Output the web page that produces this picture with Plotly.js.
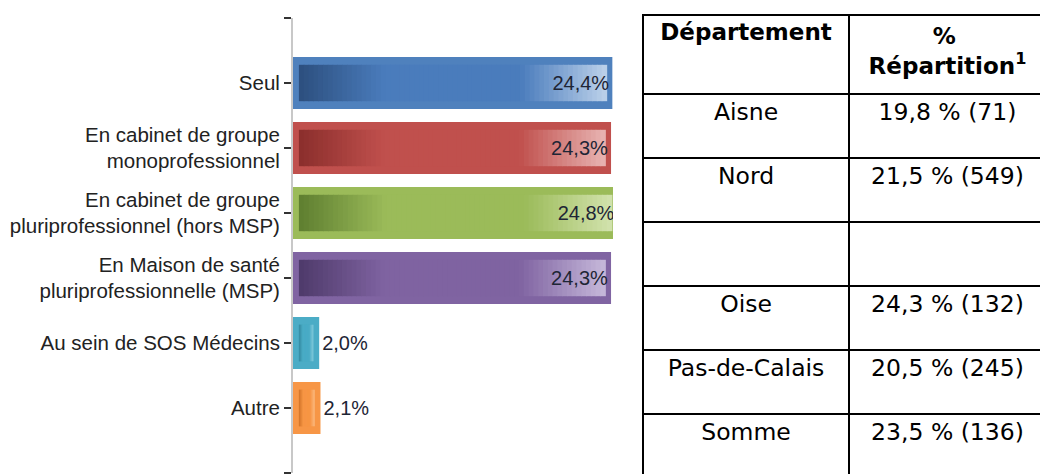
<!DOCTYPE html>
<html>
<head>
<meta charset="utf-8">
<script src="https://cdn.plot.ly/plotly-3.0.1.min.js"></script>
<style>
html,body{margin:0;padding:0;background:#fff;overflow:hidden;width:1040px;height:474px;}
#chart{width:1046px;height:478px;}
</style>
</head>
<body>
<div id="chart"></div>
<script>
// ---- data ----
const categories = [
  "Seul",
  "En cabinet de groupe<br>monoprofessionnel",
  "En cabinet de groupe<br>pluriprofessionnel (hors MSP)",
  "En Maison de santé<br>pluriprofessionnelle (MSP)",
  "Au sein de SOS Médecins",
  "Autre"
];
const values = [24.4, 24.3, 24.8, 24.3, 2.0, 2.1];

const departements = ["Aisne", "Nord", "", "Oise", "Pas-de-Calais", "Somme"];
const repartition = ["19,8 % (71)", "21,5 % (549)", "", "24,3 % (132)", "20,5 % (245)", "23,5 % (136)"];
const headerCol1 = "Département";
const headerCol2 = ["%", "Répartition<sup>1</sup>"];

// ---- styles ----
const palette = [
  {rim:"#4f81bd", dark:"#2c4f7e", mid:"#4a7cbc", light:"#bcd1ea"},
  {rim:"#c0504d", dark:"#8a2e2c", mid:"#c0504d", light:"#e8b4b2"},
  {rim:"#9bbb59", dark:"#5e7e30", mid:"#9bbb59", light:"#d2e2ad"},
  {rim:"#8064a2", dark:"#4e3a6a", mid:"#7f63a1", light:"#c6b8da"},
  {rim:"#4bacc6", dark:"#2c7d93", mid:"#4bacc6", light:"#93d3e3"},
  {rim:"#f79646", dark:"#c0661e", mid:"#f79646", light:"#fcc593"}
];
function hex2rgb(h){return [1,3,5].map(i=>parseInt(h.substr(i,2),16));}
function mix(a,b,t){const A=hex2rgb(a),B=hex2rgb(b);return 'rgb('+A.map((v,i)=>Math.round(v+(B[i]-v)*t)).join(',')+')';}
function gradColor(p,t){
  if(t<0.28) return mix(p.dark,p.mid,t/0.28);
  if(t<0.72) return mix(p.mid,p.mid,0);
  return mix(p.mid,p.light,(t-0.72)/0.28);
}
const NB = "\u00A0";

const pos = categories.map((c,i)=>i);
const labelFont = "Liberation Sans, Arial, sans-serif";
const tableFont = "DejaVu Sans, sans-serif";
const traces = [];

// outer rim bars
traces.push({
  type:"bar", orientation:"h", x:values, y:pos, width:0.8,
  marker:{color:palette.map(p=>p.rim), line:{width:0}},
  hoverinfo:"skip"
});
// inner gradient segments
const N = 64;
const inset = 0.45;
for(let s=0;s<N;s++){
  const t = (s+0.5)/N;
  traces.push({
    type:"bar", orientation:"h", y:pos, width:0.56,
    base: values.map(v=>inset + (v-2*inset)*s/N),
    x: values.map(v=>(v-2*inset)/N*1.15),
    marker:{color:palette.map(p=>gradColor(p,t)), line:{width:0}},
    hoverinfo:"skip"
  });
}
// labels
traces.push({
  type:"bar", orientation:"h", x:values, y:pos, width:0.8,
  marker:{color:"rgba(0,0,0,0)", line:{width:0}},
  text: values.map(v=>v.toFixed(1).replace(".",",")+"%"),
  textposition: values.map(v=>v>10?"inside":"outside"),
  insidetextanchor:"end",
  constraintext:"none",
  textfont:{family:labelFont, size:20, color:"#1e2535"},
  cliponaxis:true,
  hoverinfo:"skip"
});
// table
traces.push({
  type:"table",
  domain:{x:[350/753,1], y:[0,1]},
  columnwidth:[206,197],
  header:{
    values:[headerCol1, NB.repeat(8) + headerCol2[0] + "<br>" + headerCol2[1]],
    align:"center",
    height:79,
    line:{color:"#000", width:2},
    fill:{color:"#fff"},
    font:{family:tableFont, size:23, color:"#000", weight:"bold"}
  },
  cells:{
    values:[departements, repartition],
    align:"center",
    height:64,
    line:{color:"#000", width:2},
    fill:{color:"#fff"},
    font:{family:tableFont, size:23.5, color:"#000"}
  }
});

const tickvals = [-1].concat(pos, [categories.length]);
const ticktext = [" "].concat(categories, [" "]);

const layout = {
  width:1046, height:478,
  margin:{l:293, r:0, t:15, b:0},
  paper_bgcolor:"#fff", plot_bgcolor:"#fff",
  showlegend:false,
  barmode:"overlay",
  xaxis:{domain:[0,320/753], range:[0,24.45], visible:false, fixedrange:true},
  yaxis:{
    domain:[5/463, 1-3/463],
    range:[categories.length, -1],
    tickmode:"array", tickvals:tickvals, ticktext:ticktext,
    showline:true, linecolor:"#c8c8c8", linewidth:2,
    ticks:"outside", ticklen:7, tickwidth:2, tickcolor:"#333",
    showgrid:false, zeroline:false,
    tickfont:{family:labelFont, size:20.5, color:"#222"},
    fixedrange:true
  },
  font:{family:labelFont}
};

Plotly.newPlot("chart", traces, layout, {displayModeBar:false, staticPlot:true});
</script>
</body>
</html>
